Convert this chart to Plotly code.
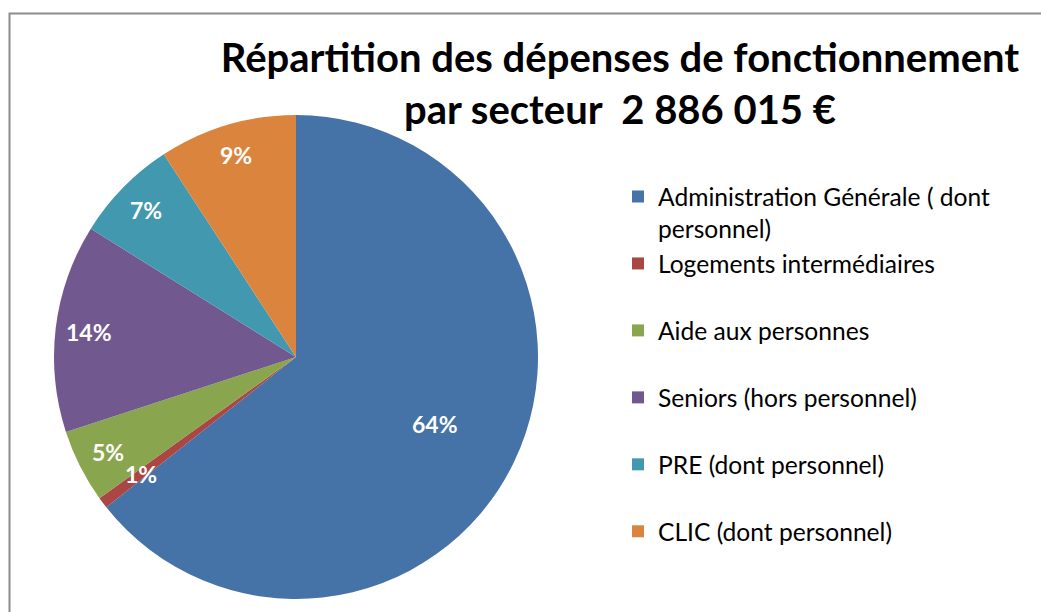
import math
import plotly.graph_objects as go

# ---- data ----
categories = [
    "Administration Générale ( dont personnel)",
    "Logements intermédiaires",
    "Aide aux personnes",
    "Seniors (hors personnel)",
    "PRE (dont personnel)",
    "CLIC (dont personnel)",
]
legend_lines = [
    ["Administration Générale ( dont", "personnel)"],
    ["Logements intermédiaires"],
    ["Aide aux personnes"],
    ["Seniors (hors personnel)"],
    ["PRE (dont personnel)"],
    ["CLIC (dont personnel)"],
]
shares = [64.3, 0.75, 4.9, 13.9, 6.9, 9.2]  # percent of total
total_label = "2 886 015 €"

# ---- style ----
colors = ["#4572A7", "#AA4643", "#89A54E", "#71588F", "#4198AF", "#DB843D"]
label_radius = [0.64, 0.80, 0.87, 0.86, 0.87, 0.87]
W, H = 1041, 612
CX, CY, R = 296, 357, 242
FONT = "Lato"


def leg_text(lines):
    parts = list(lines)
    if len(parts) < 2:
        parts.append(" ")
    return "<br>".join(parts)


labels = [leg_text(l) for l in legend_lines]

fig = go.Figure()
fig.add_trace(go.Pie(
    labels=labels,
    values=shares,
    customdata=categories,
    hovertemplate="%{customdata}: %{percent}<extra></extra>",
    sort=False,
    direction="clockwise",
    rotation=0,
    textinfo="none",
    marker=dict(colors=colors, line=dict(width=0)),
    domain=dict(x=[(CX - R) / W, (CX + R) / W], y=[1 - (CY + R) / H, 1 - (CY - R) / H]),
))

# percentage labels positioned from the data
tot = sum(shares)
annotations = []
cum = 0.0
for v, rf in zip(shares, label_radius):
    mid = 2 * math.pi * (cum + v / 2) / tot
    cum += v
    xp = CX + rf * R * math.sin(mid)
    yp = CY - rf * R * math.cos(mid)
    annotations.append(dict(
        x=xp / W, y=1 - yp / H, xref="paper", yref="paper",
        text=f"<b>{round(v / tot * 100)}%</b>", showarrow=False,
        font=dict(family=FONT, size=23, color="white"),
        xanchor="center", yanchor="middle",
    ))

fig.update_layout(
    width=W, height=H,
    margin=dict(l=0, r=0, t=0, b=0),
    paper_bgcolor="white",
    plot_bgcolor="white",
    title=dict(
        text="<b>Répartition des dépenses de fonctionnement<br>par secteur\u00a0 " + total_label + "</b>",
        x=620 / W, xanchor="center", xref="paper",
        y=1 - 72 / H, yanchor="top", yref="paper",
        font=dict(family=FONT, size=40, color="black"),
    ),
    legend=dict(
        x=618 / W, xanchor="left", y=1 - 174 / H, yanchor="top",
        font=dict(family=FONT, size=24.6, color="black"),
        valign="top", bgcolor="rgba(0,0,0,0)",
    ),
    annotations=annotations,
    shapes=[dict(
        type="rect", xref="paper", yref="paper",
        x0=9.5 / W, x1=1.05, y0=-0.05, y1=1 - 13.5 / H,
        line=dict(color="#8C8C8C", width=2), fillcolor="rgba(0,0,0,0)", layer="below",
    )],
)

fig.write_html(
    "out.html",
    config={"displayModeBar": False},
    post_script="document.body.style.margin='0';document.body.style.overflow='hidden';",
)
